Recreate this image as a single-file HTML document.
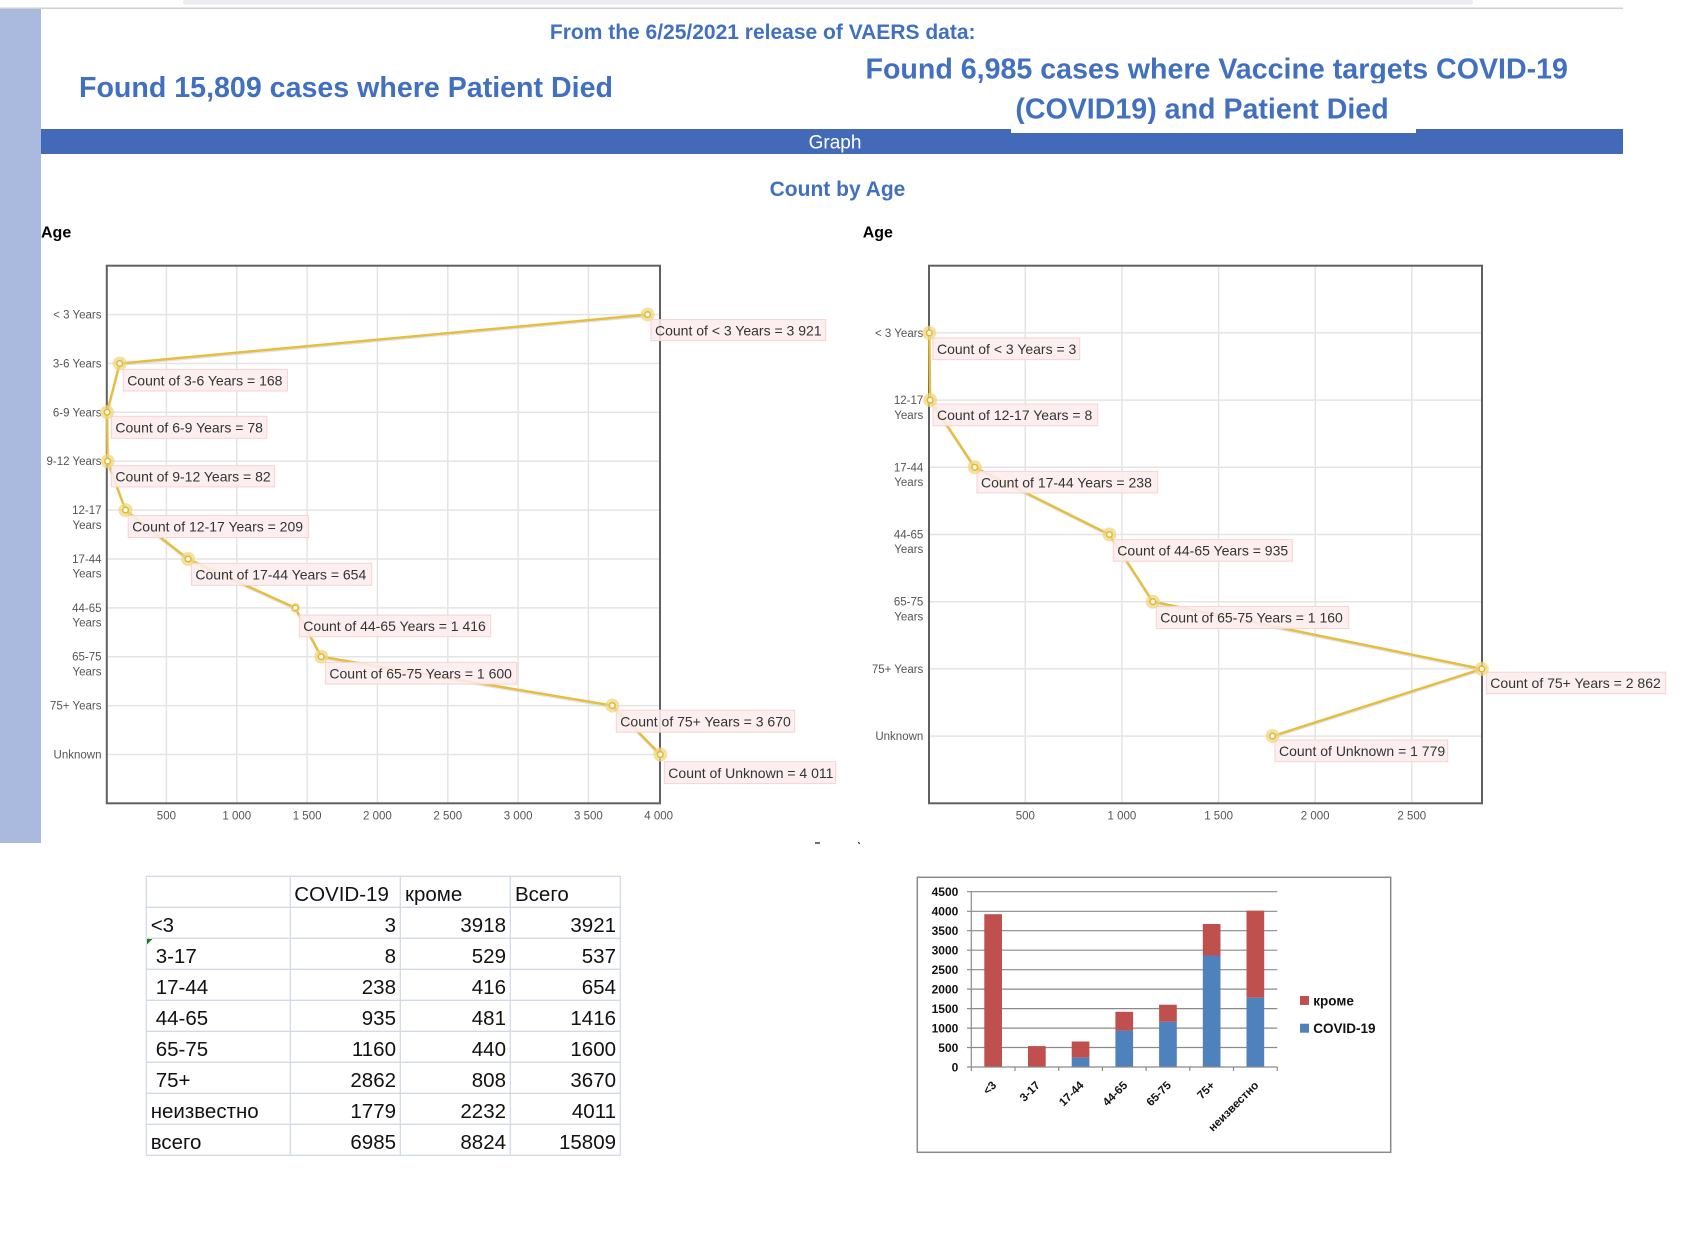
<!DOCTYPE html>
<html><head><meta charset="utf-8"><style>
html,body{margin:0;padding:0;background:#fff;width:1688px;height:1260px;overflow:hidden}
svg{display:block}
text{font-family:"Liberation Sans","DejaVu Sans",sans-serif}
</style></head><body>
<svg width="1688" height="1260" viewBox="0 0 1688 1260" xmlns="http://www.w3.org/2000/svg">
<!-- header chrome -->
<rect x="183" y="0" width="1290" height="4.5" rx="2" fill="#ececf1"/>
<line x1="0" y1="8.3" x2="1623" y2="8.3" stroke="#d0d0d0" stroke-width="1.5"/>
<rect x="0" y="9" width="41" height="834" fill="#aab9de"/>

<text x="762.7" y="39" text-anchor="middle" font-size="21" font-weight="bold" fill="#4170c0">From the 6/25/2021 release of VAERS data:</text>
<text x="79" y="97" font-size="28.6" font-weight="bold" fill="#4170c0">Found 15,809 cases where Patient Died</text>
<text x="865.5" y="78.6" font-size="28.6" font-weight="bold" fill="#4170c0">Found 6,985 cases where Vaccine targets COVID-19</text>
<rect x="860" y="83.3" width="720" height="4" fill="#fff"/>
<text x="1202" y="118.6" text-anchor="middle" font-size="28.6" font-weight="bold" fill="#4170c0">(COVID19) and Patient Died</text>

<rect x="41" y="129" width="1582" height="25" fill="#426ab8"/>
<rect x="1011" y="124" width="405" height="9" fill="#fff"/>
<text x="835" y="148.5" text-anchor="middle" font-size="19" fill="#fff">Graph</text>

<text x="837.5" y="196" text-anchor="middle" font-size="21" font-weight="bold" fill="#4170c0">Count by Age</text>

<!-- ============ LEFT CHART ============ -->
<text x="41" y="237.5" font-size="16" font-weight="bold" fill="#000">Age</text>
<g stroke="#e4e4e4" stroke-width="1.5">
<line x1="166.4" y1="266" x2="166.4" y2="803"/><line x1="236.8" y1="266" x2="236.8" y2="803"/>
<line x1="307.1" y1="266" x2="307.1" y2="803"/><line x1="377.4" y1="266" x2="377.4" y2="803"/>
<line x1="447.8" y1="266" x2="447.8" y2="803"/><line x1="518.1" y1="266" x2="518.1" y2="803"/>
<line x1="588.4" y1="266" x2="588.4" y2="803"/>
<line x1="107" y1="314.6" x2="660" y2="314.6"/><line x1="107" y1="363.5" x2="660" y2="363.5"/>
<line x1="107" y1="412.3" x2="660" y2="412.3"/><line x1="107" y1="461.2" x2="660" y2="461.2"/>
<line x1="107" y1="510.1" x2="660" y2="510.1"/><line x1="107" y1="559" x2="660" y2="559"/>
<line x1="107" y1="607.9" x2="660" y2="607.9"/><line x1="107" y1="656.7" x2="660" y2="656.7"/>
<line x1="107" y1="705.6" x2="660" y2="705.6"/><line x1="107" y1="754.5" x2="660" y2="754.5"/>
</g>
<rect x="106.8" y="265.7" width="553.2" height="537.6" fill="none" stroke="#606060" stroke-width="2"/>
<g font-size="11.5" fill="#555" text-anchor="middle">
<text x="166.4" y="819.5">500</text><text x="236.8" y="819.5">1 000</text><text x="307.1" y="819.5">1 500</text>
<text x="377.4" y="819.5">2 000</text><text x="447.8" y="819.5">2 500</text><text x="518.1" y="819.5">3 000</text>
<text x="588.4" y="819.5">3 500</text><text x="658.7" y="819.5">4 000</text>
</g>
<g font-size="11.5" fill="#555" text-anchor="end">
<text x="101.5" y="318.6">&lt; 3 Years</text>
<text x="101.5" y="367.5">3-6 Years</text>
<text x="101.5" y="416.3">6-9 Years</text>
<text x="101.5" y="465.2">9-12 Years</text>
<text x="101.5" y="514.1">12-17</text><text x="101.5" y="528.8">Years</text>
<text x="101.5" y="563">17-44</text><text x="101.5" y="577.7">Years</text>
<text x="101.5" y="611.9">44-65</text><text x="101.5" y="626.6">Years</text>
<text x="101.5" y="660.7">65-75</text><text x="101.5" y="675.4">Years</text>
<text x="101.5" y="709.6">75+ Years</text>
<text x="101.5" y="758.5">Unknown</text>
</g>
<polyline points="647.6,314.6 119.7,363.5 107.1,412.3 107.6,461.2 125.5,510.1 188.1,559 295.3,607.9 321.2,656.7 612.3,705.6 660.3,754.5" fill="none" stroke="#cfcfcf" stroke-width="2" transform="translate(0,1.5)" opacity="0.6"/>
<polyline points="647.6,314.6 119.7,363.5 107.1,412.3 107.6,461.2 125.5,510.1 188.1,559 295.3,607.9 321.2,656.7 612.3,705.6 660.3,754.5" fill="none" stroke="#e6bd3c" stroke-width="2.4" stroke-linejoin="round"/>
<g fill="#fdeded" fill-opacity="0.88" stroke="#f7d3d3" stroke-width="1">
<rect x="651" y="319.6" width="174.7" height="21"/>
<rect x="123.2" y="369.4" width="164.3" height="21.6"/>
<rect x="111.4" y="416.3" width="155.4" height="22"/>
<rect x="111.4" y="465.7" width="163.2" height="21.2"/>
<rect x="128.2" y="515.5" width="180.4" height="22"/>
<rect x="191.4" y="563.3" width="180.4" height="22"/>
<rect x="299.3" y="615.1" width="191.4" height="21.6"/>
<rect x="325.4" y="662.4" width="191.4" height="21.7"/>
<rect x="616.3" y="710.2" width="178.4" height="22"/>
<rect x="664.3" y="761.6" width="171.4" height="22"/>
</g>
<g font-size="14" fill="#333">
<text x="655" y="335.6">Count of &lt; 3 Years = 3 921</text>
<text x="127.2" y="385.6">Count of 3-6 Years = 168</text>
<text x="115.4" y="432.5">Count of 6-9 Years = 78</text>
<text x="115.4" y="481.6">Count of 9-12 Years = 82</text>
<text x="132.2" y="531.7">Count of 12-17 Years = 209</text>
<text x="195.4" y="579.5">Count of 17-44 Years = 654</text>
<text x="303.3" y="631.1">Count of 44-65 Years = 1 416</text>
<text x="329.4" y="678.4">Count of 65-75 Years = 1 600</text>
<text x="620.3" y="726.4">Count of 75+ Years = 3 670</text>
<text x="668.3" y="777.8">Count of Unknown = 4 011</text>
</g>
<g>
<g fill="#f0d680" fill-opacity="0.75">
<circle cx="647.6" cy="314.6" r="7"/><circle cx="119.7" cy="363.5" r="7"/><circle cx="107.1" cy="412.3" r="7"/>
<circle cx="107.6" cy="461.2" r="7"/><circle cx="125.5" cy="510.1" r="7"/><circle cx="188.1" cy="559" r="7"/>
<circle cx="295.3" cy="607.9" r="5"/><circle cx="321.2" cy="656.7" r="7"/><circle cx="612.3" cy="705.6" r="7"/>
<circle cx="660.3" cy="754.5" r="7"/>
</g>
<g fill="#fff" stroke="#e3b72c" stroke-width="1.5">
<circle cx="647.6" cy="314.6" r="2.8"/><circle cx="119.7" cy="363.5" r="2.8"/><circle cx="107.1" cy="412.3" r="2.8"/>
<circle cx="107.6" cy="461.2" r="2.8"/><circle cx="125.5" cy="510.1" r="2.8"/><circle cx="188.1" cy="559" r="2.8"/>
<circle cx="295.3" cy="607.9" r="2.8"/><circle cx="321.2" cy="656.7" r="2.8"/><circle cx="612.3" cy="705.6" r="2.8"/>
<circle cx="660.3" cy="754.5" r="2.8"/>
</g>
</g>

<!-- ============ RIGHT CHART ============ -->
<text x="862.7" y="237.5" font-size="16" font-weight="bold" fill="#000">Age</text>
<g stroke="#e4e4e4" stroke-width="1.5">
<line x1="1025.3" y1="266" x2="1025.3" y2="803"/><line x1="1121.9" y1="266" x2="1121.9" y2="803"/>
<line x1="1218.6" y1="266" x2="1218.6" y2="803"/><line x1="1315.2" y1="266" x2="1315.2" y2="803"/>
<line x1="1411.8" y1="266" x2="1411.8" y2="803"/>
<line x1="929" y1="332.9" x2="1482" y2="332.9"/><line x1="929" y1="400.1" x2="1482" y2="400.1"/>
<line x1="929" y1="467.3" x2="1482" y2="467.3"/><line x1="929" y1="534.5" x2="1482" y2="534.5"/>
<line x1="929" y1="601.7" x2="1482" y2="601.7"/><line x1="929" y1="668.9" x2="1482" y2="668.9"/>
<line x1="929" y1="736.1" x2="1482" y2="736.1"/>
</g>
<rect x="929" y="265.7" width="553" height="537.6" fill="none" stroke="#606060" stroke-width="2"/>
<g font-size="11.5" fill="#555" text-anchor="middle">
<text x="1025.3" y="819.5">500</text><text x="1121.9" y="819.5">1 000</text><text x="1218.6" y="819.5">1 500</text>
<text x="1315.2" y="819.5">2 000</text><text x="1411.8" y="819.5">2 500</text>
</g>
<g font-size="11.5" fill="#555" text-anchor="end">
<text x="923.3" y="336.9">&lt; 3 Years</text>
<text x="923.3" y="404.1">12-17</text><text x="923.3" y="418.8">Years</text>
<text x="923.3" y="471.3">17-44</text><text x="923.3" y="486">Years</text>
<text x="923.3" y="538.5">44-65</text><text x="923.3" y="553.2">Years</text>
<text x="923.3" y="605.7">65-75</text><text x="923.3" y="620.4">Years</text>
<text x="923.3" y="672.9">75+ Years</text>
<text x="923.3" y="740.1">Unknown</text>
</g>
<polyline points="929.3,332.9 930.2,400.1 974.7,467.3 1109.4,534.5 1152.9,601.7 1481.8,668.9 1272.5,736.1" fill="none" stroke="#cfcfcf" stroke-width="2" transform="translate(0,1.5)" opacity="0.6"/>
<polyline points="929.3,332.9 930.2,400.1 974.7,467.3 1109.4,534.5 1152.9,601.7 1481.8,668.9 1272.5,736.1" fill="none" stroke="#e6bd3c" stroke-width="2.4" stroke-linejoin="round"/>
<g fill="#fdeded" fill-opacity="0.88" stroke="#f7d3d3" stroke-width="1">
<rect x="933" y="338" width="146.7" height="21.6"/>
<rect x="933" y="404.1" width="164.7" height="21.6"/>
<rect x="977" y="471.4" width="180.7" height="21.6"/>
<rect x="1113.3" y="539.6" width="179" height="21.6"/>
<rect x="1156.3" y="606.5" width="192.4" height="22"/>
<rect x="1486.3" y="672.2" width="179.4" height="21.4"/>
<rect x="1275" y="740" width="172.7" height="21.6"/>
</g>
<g font-size="14" fill="#333">
<text x="937" y="354">Count of &lt; 3 Years = 3</text>
<text x="937" y="420.1">Count of 12-17 Years = 8</text>
<text x="981" y="487.4">Count of 17-44 Years = 238</text>
<text x="1117.3" y="555.6">Count of 44-65 Years = 935</text>
<text x="1160.3" y="622.6">Count of 65-75 Years = 1 160</text>
<text x="1490.3" y="688.2">Count of 75+ Years = 2 862</text>
<text x="1279" y="756">Count of Unknown = 1 779</text>
</g>
<g fill="#f0d680" fill-opacity="0.75">
<circle cx="929.3" cy="332.9" r="7"/><circle cx="930.2" cy="400.1" r="7"/><circle cx="974.7" cy="467.3" r="7"/>
<circle cx="1109.4" cy="534.5" r="7"/><circle cx="1152.9" cy="601.7" r="7"/><circle cx="1481.8" cy="668.9" r="7"/>
<circle cx="1272.5" cy="736.1" r="7"/>
</g>
<g fill="#fff" stroke="#e3b72c" stroke-width="1.5">
<circle cx="929.3" cy="332.9" r="2.8"/><circle cx="930.2" cy="400.1" r="2.8"/><circle cx="974.7" cy="467.3" r="2.8"/>
<circle cx="1109.4" cy="534.5" r="2.8"/><circle cx="1152.9" cy="601.7" r="2.8"/><circle cx="1481.8" cy="668.9" r="2.8"/>
<circle cx="1272.5" cy="736.1" r="2.8"/>
</g>

<!-- small marks -->
<line x1="815" y1="843" x2="820" y2="843" stroke="#222" stroke-width="1.3"/>
<line x1="858.5" y1="842" x2="859.5" y2="844" stroke="#222" stroke-width="1.2"/>

<!-- ============ TABLE ============ -->
<g stroke="#d3dae6" stroke-width="1.3">
<line x1="146.3" y1="876.3" x2="146.3" y2="1155.3"/><line x1="290.3" y1="876.3" x2="290.3" y2="1155.3"/>
<line x1="400.3" y1="876.3" x2="400.3" y2="1155.3"/><line x1="510.3" y1="876.3" x2="510.3" y2="1155.3"/>
<line x1="620.3" y1="876.3" x2="620.3" y2="1155.3"/>
<line x1="146.3" y1="876.3" x2="620.3" y2="876.3"/><line x1="146.3" y1="907.3" x2="620.3" y2="907.3"/>
<line x1="146.3" y1="938.3" x2="620.3" y2="938.3"/><line x1="146.3" y1="969.3" x2="620.3" y2="969.3"/>
<line x1="146.3" y1="1000.3" x2="620.3" y2="1000.3"/><line x1="146.3" y1="1031.3" x2="620.3" y2="1031.3"/>
<line x1="146.3" y1="1062.3" x2="620.3" y2="1062.3"/><line x1="146.3" y1="1093.3" x2="620.3" y2="1093.3"/>
<line x1="146.3" y1="1124.3" x2="620.3" y2="1124.3"/><line x1="146.3" y1="1155.3" x2="620.3" y2="1155.3"/>
</g>
<polygon points="147,939 152.5,939 147,944.5" fill="#1f7a1f"/>
<g font-size="20.5" fill="#111" font-family="'Liberation Sans','Noto Sans CJK SC',sans-serif">
<text x="294.3" y="901">COVID-19</text><text x="405" y="901">кроме</text><text x="515" y="901">Всего</text>
<text x="150.7" y="932">&lt;3</text><text x="155.7" y="963">3-17</text><text x="155.7" y="994">17-44</text>
<text x="155.7" y="1025">44-65</text><text x="155.7" y="1056">65-75</text><text x="155.7" y="1087">75+</text>
<text x="150.7" y="1118">неизвестно</text><text x="150.7" y="1149">всего</text>
</g>
<g font-size="20.5" fill="#111" text-anchor="end">
<text x="396" y="932">3</text><text x="506" y="932">3918</text><text x="616" y="932">3921</text>
<text x="396" y="963">8</text><text x="506" y="963">529</text><text x="616" y="963">537</text>
<text x="396" y="994">238</text><text x="506" y="994">416</text><text x="616" y="994">654</text>
<text x="396" y="1025">935</text><text x="506" y="1025">481</text><text x="616" y="1025">1416</text>
<text x="396" y="1056">1160</text><text x="506" y="1056">440</text><text x="616" y="1056">1600</text>
<text x="396" y="1087">2862</text><text x="506" y="1087">808</text><text x="616" y="1087">3670</text>
<text x="396" y="1118">1779</text><text x="506" y="1118">2232</text><text x="616" y="1118">4011</text>
<text x="396" y="1149">6985</text><text x="506" y="1149">8824</text><text x="616" y="1149">15809</text>
</g>

<!-- ============ BAR CHART ============ -->
<rect x="917.3" y="877.3" width="473.4" height="275" fill="#fff" stroke="#8a8a8a" stroke-width="1.5"/>
<g stroke="#8a8a8a" stroke-width="1.2">
<line x1="967" y1="891.7" x2="1277.3" y2="891.7"/><line x1="967" y1="911.3" x2="1277.3" y2="911.3"/>
<line x1="967" y1="930.7" x2="1277.3" y2="930.7"/><line x1="967" y1="950.2" x2="1277.3" y2="950.2"/>
<line x1="967" y1="969.7" x2="1277.3" y2="969.7"/><line x1="967" y1="989.1" x2="1277.3" y2="989.1"/>
<line x1="967" y1="1008.6" x2="1277.3" y2="1008.6"/><line x1="967" y1="1028.1" x2="1277.3" y2="1028.1"/>
<line x1="967" y1="1047.5" x2="1277.3" y2="1047.5"/>
<line x1="971.3" y1="891.7" x2="971.3" y2="1067"/>
</g>
<g>
<rect x="984.3" y="914.2" width="17.7" height="152.8" fill="#c0504d"/>
<rect x="1028" y="1046.1" width="17.7" height="20.6" fill="#c0504d"/>
<rect x="1028" y="1066.7" width="17.7" height="0.3" fill="#4f81bd"/>
<rect x="1071.7" y="1041.5" width="17.7" height="16.2" fill="#c0504d"/>
<rect x="1071.7" y="1057.7" width="17.7" height="9.3" fill="#4f81bd"/>
<rect x="1115.4" y="1011.8" width="17.7" height="18.8" fill="#c0504d"/>
<rect x="1115.4" y="1030.6" width="17.7" height="36.4" fill="#4f81bd"/>
<rect x="1159.1" y="1004.7" width="17.7" height="17.1" fill="#c0504d"/>
<rect x="1159.1" y="1021.8" width="17.7" height="45.2" fill="#4f81bd"/>
<rect x="1202.8" y="924" width="17.7" height="31.5" fill="#c0504d"/>
<rect x="1202.8" y="955.5" width="17.7" height="111.5" fill="#4f81bd"/>
<rect x="1246.5" y="910.7" width="17.7" height="87" fill="#c0504d"/>
<rect x="1246.5" y="997.7" width="17.7" height="69.3" fill="#4f81bd"/>
</g>
<g stroke="#8a8a8a" stroke-width="1.2">
<line x1="967" y1="1067" x2="1277.3" y2="1067"/>
<line x1="971.3" y1="1067" x2="971.3" y2="1071"/><line x1="1015" y1="1067" x2="1015" y2="1071"/>
<line x1="1058.7" y1="1067" x2="1058.7" y2="1071"/><line x1="1102.4" y1="1067" x2="1102.4" y2="1071"/>
<line x1="1146.1" y1="1067" x2="1146.1" y2="1071"/><line x1="1189.8" y1="1067" x2="1189.8" y2="1071"/>
<line x1="1233.5" y1="1067" x2="1233.5" y2="1071"/><line x1="1277.3" y1="1067" x2="1277.3" y2="1071"/>
</g>
<g font-size="12" font-weight="bold" fill="#111" text-anchor="end">
<text x="958.3" y="896">4500</text><text x="958.3" y="915.6">4000</text><text x="958.3" y="935">3500</text>
<text x="958.3" y="954.5">3000</text><text x="958.3" y="974">2500</text><text x="958.3" y="993.4">2000</text>
<text x="958.3" y="1012.9">1500</text><text x="958.3" y="1032.4">1000</text><text x="958.3" y="1051.8">500</text>
<text x="958.3" y="1071.3">0</text>
</g>
<g font-size="11.5" font-weight="bold" fill="#111" text-anchor="end">
<text transform="translate(997,1086) rotate(-45)">&lt;3</text>
<text transform="translate(1040.7,1086) rotate(-45)">3-17</text>
<text transform="translate(1084.4,1086) rotate(-45)">17-44</text>
<text transform="translate(1128.1,1086) rotate(-45)">44-65</text>
<text transform="translate(1171.8,1086) rotate(-45)">65-75</text>
<text transform="translate(1215.5,1086) rotate(-45)">75+</text>
<text transform="translate(1259.2,1086) rotate(-45)">неизвестно</text>
</g>
<rect x="1300" y="996" width="9" height="9" fill="#c0504d"/>
<text x="1313.3" y="1005.3" font-size="13.5" font-weight="bold" fill="#111">кроме</text>
<rect x="1300" y="1023.7" width="9" height="9" fill="#4f81bd"/>
<text x="1313.3" y="1033" font-size="13.5" font-weight="bold" fill="#111">COVID-19</text>
</svg>
</body></html>
